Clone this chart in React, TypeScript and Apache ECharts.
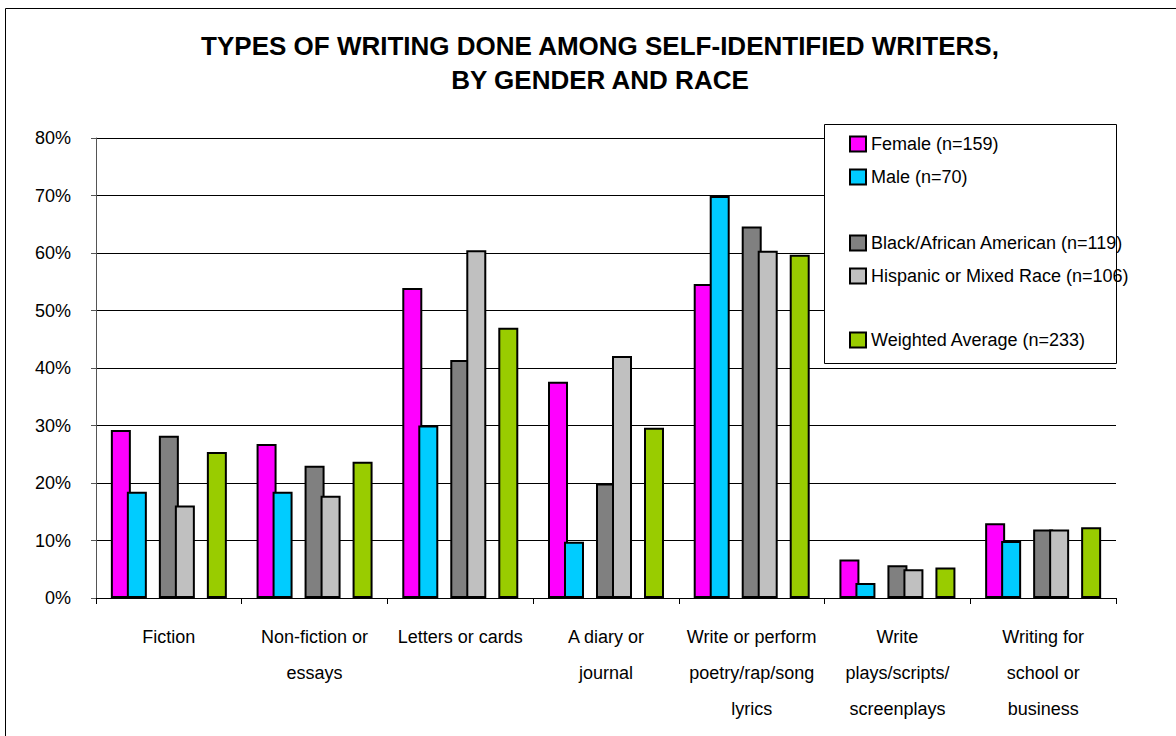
import React, { useEffect, useRef } from "react";
import * as echarts from "echarts";

const categories = [
  "Fiction",
  "Non-fiction or\nessays",
  "Letters or cards",
  "A diary or\njournal",
  "Write or perform\npoetry/rap/song\nlyrics",
  "Write\nplays/scripts/\nscreenplays",
  "Writing for\nschool or\nbusiness",
];

const female = [29.2, 26.8, 53.9, 37.6, 54.6, 6.7, 13.0];
const male = [18.5, 18.5, 30.0, 9.8, 69.9, 2.6, 9.9];
const black = [28.2, 23.0, 41.4, 19.9, 64.6, 5.7, 11.9];
const hispanic = [16.1, 17.8, 60.5, 42.1, 60.4, 5.0, 11.9];
const weighted = [25.4, 23.7, 47.0, 29.6, 59.7, 5.3, 12.3];
const empty = [null, null, null, null, null, null, null];

const yTicks = [0, 10, 20, 30, 40, 50, 60, 70, 80];

const seriesNames = [
  "Female (n=159)",
  "Male (n=70)",
  "Black/African American (n=119)",
  "Hispanic or Mixed Race (n=106)",
  "Weighted Average (n=233)",
];
const colors = ["#FF00FF", "#00CCFF", "#808080", "#C0C0C0", "#99CC00"];

const FONT = "'Liberation Sans', Arial, sans-serif";

export default function App() {
  const ref = useRef<HTMLDivElement>(null);
  useEffect(() => {
    if (!ref.current) return;
    const chart = echarts.init(ref.current, null, { renderer: "svg" });
    const bar = (name: string, data: (number | null)[], color: string) => ({
      type: "bar",
      name,
      data,
      barWidth: 20,
      barGap: "-20%",
      itemStyle: { color, borderColor: "#000", borderWidth: 2 },
    });
    const legendCommon = {
      orient: "vertical",
      left: 849,
      padding: 0,
      itemWidth: 16,
      itemHeight: 15,
      itemGap: 13,
      icon: "rect",
      textStyle: { fontSize: 18, lineHeight: 20, color: "#000", fontFamily: FONT },
    };
    chart.setOption({
      animation: false,
      backgroundColor: "#fff",
      textStyle: { fontFamily: FONT },
      title: {
        text: "TYPES OF WRITING DONE AMONG SELF-IDENTIFIED WRITERS,\nBY GENDER AND RACE",
        left: 600,
        textAlign: "center",
        top: 29,
        padding: 0,
        textStyle: {
          fontSize: 26,
          fontWeight: "bold",
          lineHeight: 34,
          color: "#000",
          fontFamily: FONT,
        },
      },
      graphic: [
        {
          type: "rect",
          z: 0,
          shape: { x: 5.5, y: 8.5, width: 1300, height: 1000 },
          style: { fill: "none", stroke: "#000", lineWidth: 1 },
        },
        {
          type: "rect",
          z: 1,
          shape: { x: 824.5, y: 124.5, width: 292, height: 239 },
          style: { fill: "#fff", stroke: "#000", lineWidth: 1 },
        },
      ],
      legend: [
        { ...legendCommon, top: 134, data: [seriesNames[0], seriesNames[1]] },
        { ...legendCommon, top: 233, data: [seriesNames[2], seriesNames[3]] },
        { ...legendCommon, top: 330, data: [seriesNames[4]] },
      ],
      grid: { left: 96, right: 60, top: 138, bottom: 138, containLabel: false },
      xAxis: {
        type: "category",
        data: categories,
        boundaryGap: true,
        axisLine: { lineStyle: { color: "#000", width: 1 } },
        axisTick: { show: true, length: 6, inside: false, lineStyle: { color: "#000" } },
        axisLabel: {
          fontSize: 18,
          lineHeight: 36,
          color: "#000",
          margin: 21,
          interval: 0,
          fontFamily: FONT,
        },
      },
      yAxis: {
        type: "value",
        min: yTicks[0],
        max: yTicks[yTicks.length - 1],
        interval: 10,
        axisLine: { show: true, lineStyle: { color: "#555", width: 1 } },
        axisTick: { show: true, length: 5, lineStyle: { color: "#555" } },
        axisLabel: {
          formatter: "{value}%",
          fontSize: 18,
          color: "#000",
          margin: 25,
          fontFamily: FONT,
        },
        splitLine: { show: true, lineStyle: { color: "#000", width: 1 } },
      },
      series: [
        bar(seriesNames[0], female, colors[0]),
        bar(seriesNames[1], male, colors[1]),
        bar("gap1", empty, "#fff"),
        bar(seriesNames[2], black, colors[2]),
        bar(seriesNames[3], hispanic, colors[3]),
        bar("gap2", empty, "#fff"),
        bar(seriesNames[4], weighted, colors[4]),
      ],
    });
    return () => chart.dispose();
  }, []);
  return (
    <div
      ref={ref}
      style={{ position: "absolute", left: 0, top: 0, width: 1176, height: 736 }}
    />
  );
}
